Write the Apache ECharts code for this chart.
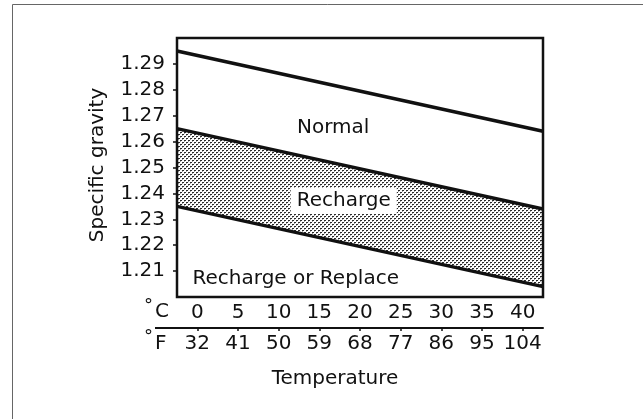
<!DOCTYPE html>
<html>
<head>
<meta charset="utf-8">
<script src="https://cdn.jsdelivr.net/npm/echarts@6/dist/echarts.min.js"></script>
<style>
  html, body { margin: 0; padding: 0; background: #fff; }
  #chart { width: 643px; height: 419px; }
</style>
</head>
<body>
<div id="chart"></div>
<script>
// Electrolyte specific gravity vs. temperature, battery charge bands
var tempC = [-2.5, 42.5];                 // x extent of each boundary line (°C)
var normalLine = [1.295, 1.264];          // upper edge of "Normal"
var rechargeLine = [1.265, 1.234];        // lower edge of "Normal" / top of "Recharge"
var replaceLine = [1.235, 1.204];         // lower edge of "Recharge"

var celsiusTicks = [0, 5, 10, 15, 20, 25, 30, 35, 40];
var fahrenheitLabels = ['32', '41', '50', '59', '68', '77', '86', '95', '104'];
var gravityTicks = [1.21, 1.22, 1.23, 1.24, 1.25, 1.26, 1.27, 1.28, 1.29];

var zoneLabels = [
  { text: 'Normal', x: 16.7, y: 1.2653, boxed: false },
  { text: 'Recharge', x: 18.0, y: 1.2371, boxed: true },
  { text: 'Recharge or Replace', x: 12.1, y: 1.2069, boxed: false }
];

var FONT = 'DejaVu Sans';
var INK = '#111';

function pairs(xs, ys) {
  return xs.map(function (x, i) { return [x, ys[i]]; });
}

// stipple fill for the recharge band
function stipple() {
  var c = document.createElement('canvas');
  c.width = 4; c.height = 4;
  var g = c.getContext('2d');
  g.fillStyle = '#ffffff';
  g.fillRect(0, 0, 4, 4);
  g.fillStyle = '#2a2a2a';
  g.fillRect(0, 0, 2, 1);
  g.fillRect(2, 2, 2, 1);
  g.fillStyle = '#a0a0a0';
  g.fillRect(0, 1, 1, 1);
  g.fillRect(2, 3, 1, 1);
  return c;
}

var chart = echarts.init(document.getElementById('chart'), null, { renderer: 'canvas' });

var lineStyle = { color: INK, width: 3.5 };

chart.setOption({
  animation: false,
  backgroundColor: '#fff',
  grid: { left: 177, right: 100, top: 38, bottom: 122 },
  xAxis: [
    {
      type: 'value', min: -2.5, max: 42.5, position: 'bottom',
      axisLine: { show: false, onZero: false },
      axisTick: { show: false },
      splitLine: { show: false },
      axisLabel: {
        customValues: celsiusTicks, margin: 6,
        color: INK, fontFamily: FONT, fontSize: 20,
        formatter: function (v) { return String(v); }
      }
    },
    {
      type: 'value', min: -2.5, max: 42.5, position: 'bottom', offset: 31,
      axisLine: { show: true, onZero: false, lineStyle: { color: INK, width: 2 } },
      axisTick: { show: true, customValues: celsiusTicks, length: 3, lineStyle: { color: INK, width: 1.5 } },
      splitLine: { show: false },
      axisLabel: {
        customValues: celsiusTicks, margin: 6,
        color: INK, fontFamily: FONT, fontSize: 20,
        formatter: function (v) {
          var i = celsiusTicks.indexOf(Math.round(v));
          return i >= 0 ? fahrenheitLabels[i] : '';
        }
      }
    }
  ],
  yAxis: {
    type: 'value', min: 1.20, max: 1.30, position: 'left',
    axisLine: { show: false, onZero: false },
    axisTick: { show: true, customValues: gravityTicks, length: 4, lineStyle: { color: INK, width: 1.5 } },
    splitLine: { show: false },
    axisLabel: {
      customValues: gravityTicks, margin: 12,
      color: INK, fontFamily: FONT, fontSize: 20,
      formatter: function (v) { return v.toFixed(2); }
    }
  },
  series: [
    {
      type: 'line', name: 'normal', data: pairs(tempC, normalLine),
      symbol: 'none', lineStyle: lineStyle, z: 5
    },
    {
      type: 'line', name: 'recharge', data: pairs(tempC, rechargeLine),
      symbol: 'none', lineStyle: lineStyle, z: 3,
      areaStyle: { origin: 'start', opacity: 1, color: { image: stipple(), repeat: 'repeat' } }
    },
    {
      type: 'line', name: 'replace', data: pairs(tempC, replaceLine),
      symbol: 'none', lineStyle: lineStyle, z: 4,
      areaStyle: { origin: 'start', opacity: 1, color: '#ffffff' }
    }
  ]
});

// zone captions placed at data coordinates
var graphics = zoneLabels.map(function (z) {
  var p = chart.convertToPixel({ gridIndex: 0 }, [z.x, z.y]);
  var style = {
    text: z.text, x: p[0], y: p[1], fill: INK,
    font: '20px "' + FONT + '"', align: 'center', verticalAlign: 'middle'
  };
  if (z.boxed) {
    style.backgroundColor = '#ffffff';
    style.padding = [3, 6, 3, 6];
  }
  return { type: 'text', z: 100, style: style };
});

// plot frame drawn over the filled bands
var tl = chart.convertToPixel({ gridIndex: 0 }, [tempC[0], 1.30]);
var br = chart.convertToPixel({ gridIndex: 0 }, [tempC[1], 1.20]);
graphics.push({
  type: 'rect', z: 90,
  shape: { x: tl[0], y: tl[1], width: br[0] - tl[0], height: br[1] - tl[1] },
  style: { fill: null, stroke: INK, lineWidth: 2.5 }
});

// axis titles, unit markers, outer frame
graphics.push(
  { type: 'text', z: 100, rotation: Math.PI / 2, x: 98, y: 165,
    style: { text: 'Specific gravity', fill: INK, font: '20px "' + FONT + '"', align: 'center', verticalAlign: 'middle' } },
  { type: 'text', z: 100, x: 335, y: 379,
    style: { text: 'Temperature', fill: INK, font: '20px "' + FONT + '"', align: 'center', verticalAlign: 'middle' } },
  { type: 'text', z: 100, x: 144, y: 297, style: { text: '°', fill: INK, font: '18px "' + FONT + '"' } },
  { type: 'text', z: 100, x: 155, y: 302, style: { text: 'C', fill: INK, font: '20px "' + FONT + '"' } },
  { type: 'text', z: 100, x: 144, y: 328, style: { text: '°', fill: INK, font: '18px "' + FONT + '"' } },
  { type: 'text', z: 100, x: 155, y: 334, style: { text: 'F', fill: INK, font: '20px "' + FONT + '"' } },
  { type: 'line', z: 100, shape: { x1: 155, y1: 328, x2: 178, y2: 328 }, style: { stroke: INK, lineWidth: 2 } },
  { type: 'line', z: 100, shape: { x1: 12.5, y1: 4.5, x2: 643, y2: 4.5 }, style: { stroke: '#666', lineWidth: 1 } },
  { type: 'line', z: 100, shape: { x1: 12.5, y1: 4.5, x2: 12.5, y2: 419 }, style: { stroke: '#666', lineWidth: 1 } }
);

chart.setOption({ graphic: graphics });
</script>
</body>
</html>
